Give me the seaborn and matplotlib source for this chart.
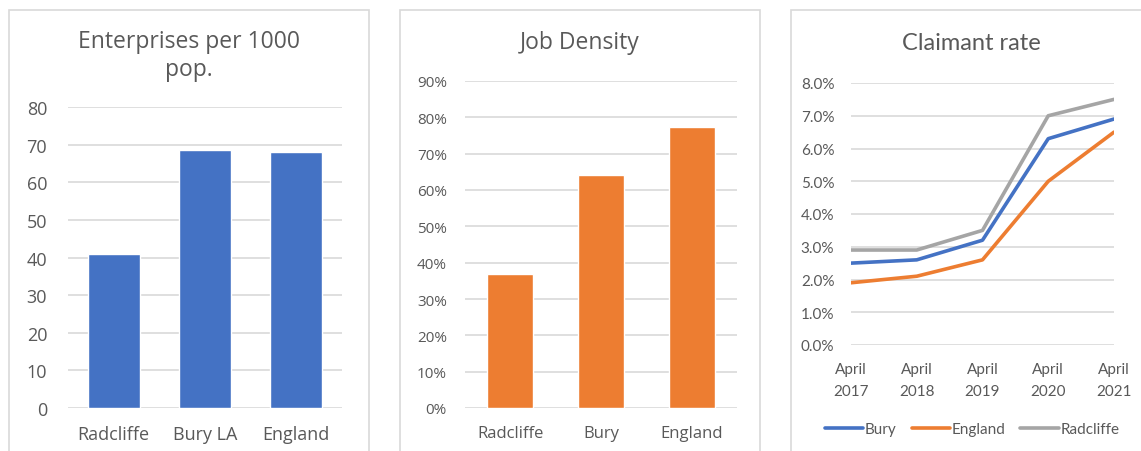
import matplotlib
matplotlib.use("Agg")
import matplotlib.pyplot as plt
from matplotlib.patches import Rectangle
from matplotlib.lines import Line2D
from matplotlib.ticker import FuncFormatter
import seaborn as sns
import pandas as pd

# ---- data ----
ent_places = ["Radcliffe", "Bury LA", "England"]
ent_values = [41, 68.5, 68]

job_places = ["Radcliffe", "Bury", "England"]
job_values = [0.37, 0.64, 0.773]

claim_periods = ["April\n2017", "April\n2018", "April\n2019", "April\n2020", "April\n2021"]
claim_bury = [0.025, 0.026, 0.032, 0.063, 0.069]
claim_england = [0.019, 0.021, 0.026, 0.050, 0.065]
claim_radcliffe = [0.029, 0.029, 0.035, 0.070, 0.075]

BLUE = "#4472C4"
ORANGE = "#ED7D31"
GREY = "#A5A5A5"
TEXT = "#595959"
GRID = "#D9D9D9"

sns.set_theme(style="white")
plt.rcParams["font.family"] = ["Open Sans", "DejaVu Sans"]

W, H = 1141, 452
fig = plt.figure(figsize=(W / 100, H / 100), dpi=100)


def px_axes(left, top, right, bottom):
    return fig.add_axes([left / W, (H - bottom) / H, (right - left) / W, (bottom - top) / H])


def panel_border(left, top, right, bottom):
    fig.patches.append(Rectangle((left / W, (H - bottom) / H), (right - left) / W,
                                 (bottom - top) / H, transform=fig.transFigure,
                                 fill=False, edgecolor=GRID, linewidth=1.2, zorder=0))


def style_axes(ax, fontsize, family):
    sns.despine(ax=ax, left=True, bottom=True)
    ax.yaxis.grid(True, color=GRID, linewidth=1.2)
    ax.set_axisbelow(True)
    ax.tick_params(axis="both", length=0, colors=TEXT, labelsize=fontsize)
    for lab in ax.get_xticklabels() + ax.get_yticklabels():
        lab.set_fontfamily(family)
    ax.set_xlabel("")
    ax.set_ylabel("")


# panel frames
panel_border(9, 11, 369, 460)
panel_border(400, 11, 760, 460)
panel_border(791, 11, 1150, 460)

# ---- Enterprises per 1000 pop. ----
ax1 = px_axes(68, 108, 342, 409)
df1 = pd.DataFrame({"place": ent_places, "value": ent_values})
sns.barplot(data=df1, x="place", y="value", color=BLUE, saturation=1, width=0.57, ax=ax1)
ax1.set_ylim(0, 80)
ax1.set_yticks(range(0, 81, 10))
ax1.set_xlim(-0.5, 2.5)
style_axes(ax1, 13, ["Open Sans", "DejaVu Sans"])
ax1.tick_params(axis="y", pad=15)
ax1.tick_params(axis="x", pad=12)
fig.text(189 / W, 1 - 56 / H, "Enterprises per 1000\npop.", ha="center", va="center",
         fontsize=16.5, color=TEXT, linespacing=1.2, family=["Open Sans", "DejaVu Sans"])

# ---- Job Density ----
ax2 = px_axes(465, 82, 737, 409)
df2 = pd.DataFrame({"place": job_places, "value": job_values})
sns.barplot(data=df2, x="place", y="value", color=ORANGE, saturation=1, width=0.51, ax=ax2)
ax2.set_ylim(0, 0.9)
ax2.set_yticks([i / 10 for i in range(10)])
ax2.yaxis.set_major_formatter(FuncFormatter(lambda v, _: f"{v * 100:.0f}%"))
ax2.set_xlim(-0.5, 2.5)
style_axes(ax2, 11, ["Open Sans", "DejaVu Sans"])
ax2.tick_params(axis="y", pad=13)
ax2.tick_params(axis="x", pad=12, labelsize=12)
fig.text(580 / W, 1 - 43 / H, "Job Density", ha="center", va="center",
         fontsize=16.5, color=TEXT, family=["Open Sans", "DejaVu Sans"])

# ---- Claimant rate ----
ax3 = px_axes(851, 84, 1114, 346)
df3 = pd.DataFrame({
    "period": claim_periods * 3,
    "rate": claim_bury + claim_england + claim_radcliffe,
    "area": ["Bury"] * 5 + ["England"] * 5 + ["Radcliffe"] * 5,
})
df3["pos"] = list(range(5)) * 3
sns.lineplot(data=df3, x="pos", y="rate", hue="area",
             palette={"Bury": BLUE, "England": ORANGE, "Radcliffe": GREY},
             linewidth=2.6, ax=ax3, legend=False)
ax3.set_xlim(0, 4)
ax3.set_ylim(0, 0.08)
ax3.set_yticks([i / 100 for i in range(9)])
ax3.yaxis.set_major_formatter(FuncFormatter(lambda v, _: f"{v * 100:.1f}%"))
ax3.set_xticks(range(5))
ax3.set_xticklabels(claim_periods, linespacing=1.75)
style_axes(ax3, 11, ["Lato", "DejaVu Sans"])
ax3.tick_params(axis="y", pad=12)
ax3.tick_params(axis="x", pad=12)
fig.text(971 / W, 1 - 44 / H, "Claimant rate", ha="center", va="center",
         fontsize=17, color=TEXT, family=["Lato", "DejaVu Sans"])

handles = [Line2D([], [], color=c, linewidth=2.6) for c in (BLUE, ORANGE, GREY)]
leg = fig.legend(handles, ["Bury", "England", "Radcliffe"], loc="center",
                 bbox_to_anchor=(972 / W, 1 - 430 / H), ncol=3, frameon=False,
                 handlelength=2.5, handletextpad=0.1, columnspacing=1.0,
                 prop={"family": "Lato", "size": 11})
for t in leg.get_texts():
    t.set_color(TEXT)

fig.savefig("out.png", dpi=100, facecolor="white")
